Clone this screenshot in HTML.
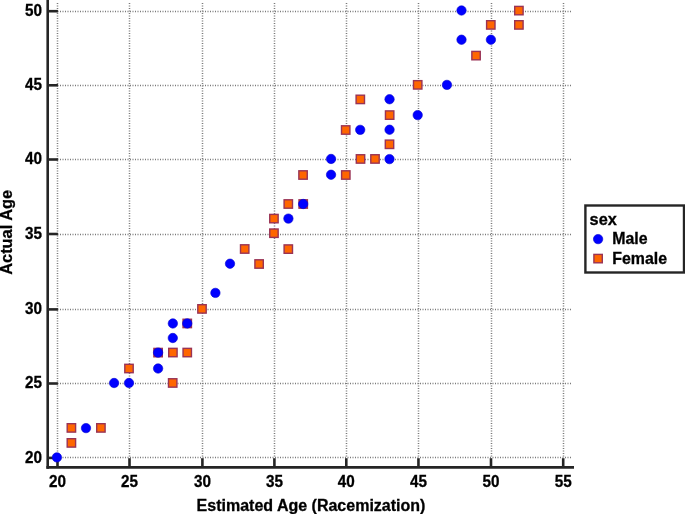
<!DOCTYPE html>
<html><head><meta charset="utf-8"><style>
html,body{margin:0;padding:0;background:#fff;width:685px;height:514px;overflow:hidden}
svg{display:block;will-change:transform}
</style></head><body>
<svg width="685" height="514" viewBox="0 0 685 514">
<g>
<line x1="57.50" y1="3" x2="57.50" y2="457.90" stroke="#7a7a7a" stroke-width="1.5" stroke-dasharray="1 1.5"/>
<line x1="129.50" y1="3" x2="129.50" y2="457.90" stroke="#7a7a7a" stroke-width="1.5" stroke-dasharray="1 1.5"/>
<line x1="202.50" y1="3" x2="202.50" y2="457.90" stroke="#7a7a7a" stroke-width="1.5" stroke-dasharray="1 1.5"/>
<line x1="274.50" y1="3" x2="274.50" y2="457.90" stroke="#7a7a7a" stroke-width="1.5" stroke-dasharray="1 1.5"/>
<line x1="346.50" y1="3" x2="346.50" y2="457.90" stroke="#7a7a7a" stroke-width="1.5" stroke-dasharray="1 1.5"/>
<line x1="418.50" y1="3" x2="418.50" y2="457.90" stroke="#7a7a7a" stroke-width="1.5" stroke-dasharray="1 1.5"/>
<line x1="491.50" y1="3" x2="491.50" y2="457.90" stroke="#7a7a7a" stroke-width="1.5" stroke-dasharray="1 1.5"/>
<line x1="563.50" y1="3" x2="563.50" y2="457.90" stroke="#7a7a7a" stroke-width="1.5" stroke-dasharray="1 1.5"/>
<line x1="57.50" y1="11.50" x2="571" y2="11.50" stroke="#7a7a7a" stroke-width="1.5" stroke-dasharray="1 1.5"/>
<line x1="57.50" y1="85.50" x2="571" y2="85.50" stroke="#7a7a7a" stroke-width="1.5" stroke-dasharray="1 1.5"/>
<line x1="57.50" y1="159.50" x2="571" y2="159.50" stroke="#7a7a7a" stroke-width="1.5" stroke-dasharray="1 1.5"/>
<line x1="57.50" y1="234.50" x2="571" y2="234.50" stroke="#7a7a7a" stroke-width="1.5" stroke-dasharray="1 1.5"/>
<line x1="57.50" y1="309.50" x2="571" y2="309.50" stroke="#7a7a7a" stroke-width="1.5" stroke-dasharray="1 1.5"/>
<line x1="57.50" y1="383.50" x2="571" y2="383.50" stroke="#7a7a7a" stroke-width="1.5" stroke-dasharray="1 1.5"/>
<line x1="57.50" y1="457.50" x2="571" y2="457.50" stroke="#7a7a7a" stroke-width="1.5" stroke-dasharray="1 1.5"/>
</g>
<line x1="47.7" y1="0" x2="47.7" y2="468.70" stroke="#252525" stroke-width="2.6"/>
<line x1="46.40" y1="467.4" x2="574" y2="467.4" stroke="#252525" stroke-width="2.6"/>
<line x1="47.7" y1="11.20" x2="57.9" y2="11.20" stroke="#252525" stroke-width="2.6"/>
<text transform="translate(41.9,16.00) scale(0.955,1)" text-anchor="end" font-size="16" font-family="Liberation Sans, sans-serif" font-weight="bold" stroke="#000" stroke-width="0.3">50</text>
<line x1="47.7" y1="85.30" x2="57.9" y2="85.30" stroke="#252525" stroke-width="2.6"/>
<text transform="translate(41.9,90.10) scale(0.955,1)" text-anchor="end" font-size="16" font-family="Liberation Sans, sans-serif" font-weight="bold" stroke="#000" stroke-width="0.3">45</text>
<line x1="47.7" y1="159.50" x2="57.9" y2="159.50" stroke="#252525" stroke-width="2.6"/>
<text transform="translate(41.9,164.30) scale(0.955,1)" text-anchor="end" font-size="16" font-family="Liberation Sans, sans-serif" font-weight="bold" stroke="#000" stroke-width="0.3">40</text>
<line x1="47.7" y1="234.00" x2="57.9" y2="234.00" stroke="#252525" stroke-width="2.6"/>
<text transform="translate(41.9,238.80) scale(0.955,1)" text-anchor="end" font-size="16" font-family="Liberation Sans, sans-serif" font-weight="bold" stroke="#000" stroke-width="0.3">35</text>
<line x1="47.7" y1="309.40" x2="57.9" y2="309.40" stroke="#252525" stroke-width="2.6"/>
<text transform="translate(41.9,314.20) scale(0.955,1)" text-anchor="end" font-size="16" font-family="Liberation Sans, sans-serif" font-weight="bold" stroke="#000" stroke-width="0.3">30</text>
<line x1="47.7" y1="383.50" x2="57.9" y2="383.50" stroke="#252525" stroke-width="2.6"/>
<text transform="translate(41.9,388.30) scale(0.955,1)" text-anchor="end" font-size="16" font-family="Liberation Sans, sans-serif" font-weight="bold" stroke="#000" stroke-width="0.3">25</text>
<line x1="47.7" y1="457.90" x2="57.9" y2="457.90" stroke="#252525" stroke-width="2.6"/>
<text transform="translate(41.9,462.70) scale(0.955,1)" text-anchor="end" font-size="16" font-family="Liberation Sans, sans-serif" font-weight="bold" stroke="#000" stroke-width="0.3">20</text>
<line x1="57.50" y1="467.4" x2="57.50" y2="458.2" stroke="#252525" stroke-width="2.6"/>
<text transform="translate(57.50,486.5) scale(0.955,1)" text-anchor="middle" font-size="16" font-family="Liberation Sans, sans-serif" font-weight="bold" stroke="#000" stroke-width="0.3">20</text>
<line x1="129.50" y1="467.4" x2="129.50" y2="458.2" stroke="#252525" stroke-width="2.6"/>
<text transform="translate(129.50,486.5) scale(0.955,1)" text-anchor="middle" font-size="16" font-family="Liberation Sans, sans-serif" font-weight="bold" stroke="#000" stroke-width="0.3">25</text>
<line x1="202.40" y1="467.4" x2="202.40" y2="458.2" stroke="#252525" stroke-width="2.6"/>
<text transform="translate(202.40,486.5) scale(0.955,1)" text-anchor="middle" font-size="16" font-family="Liberation Sans, sans-serif" font-weight="bold" stroke="#000" stroke-width="0.3">30</text>
<line x1="274.40" y1="467.4" x2="274.40" y2="458.2" stroke="#252525" stroke-width="2.6"/>
<text transform="translate(274.40,486.5) scale(0.955,1)" text-anchor="middle" font-size="16" font-family="Liberation Sans, sans-serif" font-weight="bold" stroke="#000" stroke-width="0.3">35</text>
<line x1="346.30" y1="467.4" x2="346.30" y2="458.2" stroke="#252525" stroke-width="2.6"/>
<text transform="translate(346.30,486.5) scale(0.955,1)" text-anchor="middle" font-size="16" font-family="Liberation Sans, sans-serif" font-weight="bold" stroke="#000" stroke-width="0.3">40</text>
<line x1="418.45" y1="467.4" x2="418.45" y2="458.2" stroke="#252525" stroke-width="2.6"/>
<text transform="translate(418.45,486.5) scale(0.955,1)" text-anchor="middle" font-size="16" font-family="Liberation Sans, sans-serif" font-weight="bold" stroke="#000" stroke-width="0.3">45</text>
<line x1="491.00" y1="467.4" x2="491.00" y2="458.2" stroke="#252525" stroke-width="2.6"/>
<text transform="translate(491.00,486.5) scale(0.955,1)" text-anchor="middle" font-size="16" font-family="Liberation Sans, sans-serif" font-weight="bold" stroke="#000" stroke-width="0.3">50</text>
<line x1="563.20" y1="467.4" x2="563.20" y2="458.2" stroke="#252525" stroke-width="2.6"/>
<text transform="translate(563.20,486.5) scale(0.955,1)" text-anchor="middle" font-size="16" font-family="Liberation Sans, sans-serif" font-weight="bold" stroke="#000" stroke-width="0.3">55</text>
<text x="311" y="510.9" text-anchor="middle" font-size="16" font-family="Liberation Sans, sans-serif" font-weight="bold" stroke="#000" stroke-width="0.3">Estimated Age (Racemization)</text>
<text transform="translate(12,232.3) rotate(-90)" text-anchor="middle" font-size="16.4" font-family="Liberation Sans, sans-serif" font-weight="bold" stroke="#000" stroke-width="0.3">Actual Age</text>
<rect x="67.20" y="438.70" width="8.4" height="8.4" fill="#ff6600" stroke="#993355" stroke-width="1.4"/>
<rect x="67.20" y="423.70" width="8.4" height="8.4" fill="#ff6600" stroke="#993355" stroke-width="1.4"/>
<rect x="96.70" y="423.70" width="8.4" height="8.4" fill="#ff6600" stroke="#993355" stroke-width="1.4"/>
<rect x="124.80" y="364.30" width="8.4" height="8.4" fill="#ff6600" stroke="#993355" stroke-width="1.4"/>
<rect x="153.90" y="348.40" width="8.4" height="8.4" fill="#ff6600" stroke="#993355" stroke-width="1.4"/>
<rect x="168.50" y="378.75" width="8.4" height="8.4" fill="#ff6600" stroke="#993355" stroke-width="1.4"/>
<rect x="168.70" y="348.35" width="8.4" height="8.4" fill="#ff6600" stroke="#993355" stroke-width="1.4"/>
<rect x="183.05" y="348.35" width="8.4" height="8.4" fill="#ff6600" stroke="#993355" stroke-width="1.4"/>
<rect x="183.05" y="319.25" width="8.4" height="8.4" fill="#ff6600" stroke="#993355" stroke-width="1.4"/>
<rect x="197.80" y="304.70" width="8.4" height="8.4" fill="#ff6600" stroke="#993355" stroke-width="1.4"/>
<rect x="240.50" y="244.80" width="8.4" height="8.4" fill="#ff6600" stroke="#993355" stroke-width="1.4"/>
<rect x="254.90" y="259.80" width="8.4" height="8.4" fill="#ff6600" stroke="#993355" stroke-width="1.4"/>
<rect x="269.75" y="229.00" width="8.4" height="8.4" fill="#ff6600" stroke="#993355" stroke-width="1.4"/>
<rect x="269.75" y="214.40" width="8.4" height="8.4" fill="#ff6600" stroke="#993355" stroke-width="1.4"/>
<rect x="284.10" y="244.90" width="8.4" height="8.4" fill="#ff6600" stroke="#993355" stroke-width="1.4"/>
<rect x="284.10" y="199.80" width="8.4" height="8.4" fill="#ff6600" stroke="#993355" stroke-width="1.4"/>
<rect x="299.00" y="199.80" width="8.4" height="8.4" fill="#ff6600" stroke="#993355" stroke-width="1.4"/>
<rect x="298.85" y="170.80" width="8.4" height="8.4" fill="#ff6600" stroke="#993355" stroke-width="1.4"/>
<rect x="341.60" y="170.80" width="8.4" height="8.4" fill="#ff6600" stroke="#993355" stroke-width="1.4"/>
<rect x="341.50" y="125.80" width="8.4" height="8.4" fill="#ff6600" stroke="#993355" stroke-width="1.4"/>
<rect x="356.30" y="154.75" width="8.4" height="8.4" fill="#ff6600" stroke="#993355" stroke-width="1.4"/>
<rect x="356.10" y="95.20" width="8.4" height="8.4" fill="#ff6600" stroke="#993355" stroke-width="1.4"/>
<rect x="370.80" y="154.75" width="8.4" height="8.4" fill="#ff6600" stroke="#993355" stroke-width="1.4"/>
<rect x="385.30" y="140.10" width="8.4" height="8.4" fill="#ff6600" stroke="#993355" stroke-width="1.4"/>
<rect x="385.45" y="110.90" width="8.4" height="8.4" fill="#ff6600" stroke="#993355" stroke-width="1.4"/>
<rect x="413.50" y="80.65" width="8.4" height="8.4" fill="#ff6600" stroke="#993355" stroke-width="1.4"/>
<rect x="471.85" y="51.40" width="8.4" height="8.4" fill="#ff6600" stroke="#993355" stroke-width="1.4"/>
<rect x="486.60" y="20.70" width="8.4" height="8.4" fill="#ff6600" stroke="#993355" stroke-width="1.4"/>
<rect x="514.70" y="20.70" width="8.4" height="8.4" fill="#ff6600" stroke="#993355" stroke-width="1.4"/>
<rect x="514.70" y="6.40" width="8.4" height="8.4" fill="#ff6600" stroke="#993355" stroke-width="1.4"/>
<circle cx="56.90" cy="457.40" r="4.7" fill="#0000ff" stroke="#0000d0" stroke-width="0.6"/>
<circle cx="86.00" cy="428.10" r="4.7" fill="#0000ff" stroke="#0000d0" stroke-width="0.6"/>
<circle cx="114.10" cy="383.00" r="4.7" fill="#0000ff" stroke="#0000d0" stroke-width="0.6"/>
<circle cx="129.00" cy="383.00" r="4.7" fill="#0000ff" stroke="#0000d0" stroke-width="0.6"/>
<circle cx="158.10" cy="368.50" r="4.7" fill="#0000ff" stroke="#0000d0" stroke-width="0.6"/>
<circle cx="158.10" cy="352.60" r="4.7" fill="#0000ff" stroke="#0000d0" stroke-width="0.6"/>
<circle cx="172.80" cy="338.00" r="4.7" fill="#0000ff" stroke="#0000d0" stroke-width="0.6"/>
<circle cx="172.85" cy="323.45" r="4.7" fill="#0000ff" stroke="#0000d0" stroke-width="0.6"/>
<circle cx="187.25" cy="323.45" r="4.7" fill="#0000ff" stroke="#0000d0" stroke-width="0.6"/>
<circle cx="215.40" cy="292.90" r="4.7" fill="#0000ff" stroke="#0000d0" stroke-width="0.6"/>
<circle cx="230.00" cy="263.70" r="4.7" fill="#0000ff" stroke="#0000d0" stroke-width="0.6"/>
<circle cx="288.40" cy="218.60" r="4.7" fill="#0000ff" stroke="#0000d0" stroke-width="0.6"/>
<circle cx="303.20" cy="204.00" r="4.7" fill="#0000ff" stroke="#0000d0" stroke-width="0.6"/>
<circle cx="331.05" cy="174.75" r="4.7" fill="#0000ff" stroke="#0000d0" stroke-width="0.6"/>
<circle cx="331.05" cy="158.95" r="4.7" fill="#0000ff" stroke="#0000d0" stroke-width="0.6"/>
<circle cx="360.20" cy="129.85" r="4.7" fill="#0000ff" stroke="#0000d0" stroke-width="0.6"/>
<circle cx="389.50" cy="159.10" r="4.7" fill="#0000ff" stroke="#0000d0" stroke-width="0.6"/>
<circle cx="389.55" cy="129.70" r="4.7" fill="#0000ff" stroke="#0000d0" stroke-width="0.6"/>
<circle cx="389.55" cy="99.25" r="4.7" fill="#0000ff" stroke="#0000d0" stroke-width="0.6"/>
<circle cx="417.70" cy="115.10" r="4.7" fill="#0000ff" stroke="#0000d0" stroke-width="0.6"/>
<circle cx="446.95" cy="84.90" r="4.7" fill="#0000ff" stroke="#0000d0" stroke-width="0.6"/>
<circle cx="461.50" cy="39.70" r="4.7" fill="#0000ff" stroke="#0000d0" stroke-width="0.6"/>
<circle cx="461.50" cy="10.50" r="4.7" fill="#0000ff" stroke="#0000d0" stroke-width="0.6"/>
<circle cx="490.90" cy="39.70" r="4.7" fill="#0000ff" stroke="#0000d0" stroke-width="0.6"/>
<rect x="585.4" y="205.5" width="98.6" height="67" fill="#fff" stroke="#252525" stroke-width="2.4"/>
<text x="589.6" y="224.5" font-size="16.3" font-family="Liberation Sans, sans-serif" font-weight="bold" stroke="#000" stroke-width="0.3">sex</text>
<circle cx="598.1" cy="239.1" r="4.7" fill="#0000ff" stroke="#0000d0" stroke-width="0.6"/>
<rect x="593.9" y="254.4" width="8.4" height="8.4" fill="#ff6600" stroke="#993355" stroke-width="1.4"/>
<text x="612.3" y="244.1" font-size="15.9" font-family="Liberation Sans, sans-serif" font-weight="bold" stroke="#000" stroke-width="0.3">Male</text>
<text x="612.3" y="264.0" font-size="15.9" font-family="Liberation Sans, sans-serif" font-weight="bold" stroke="#000" stroke-width="0.3">Female</text>
</svg>
</body></html>
